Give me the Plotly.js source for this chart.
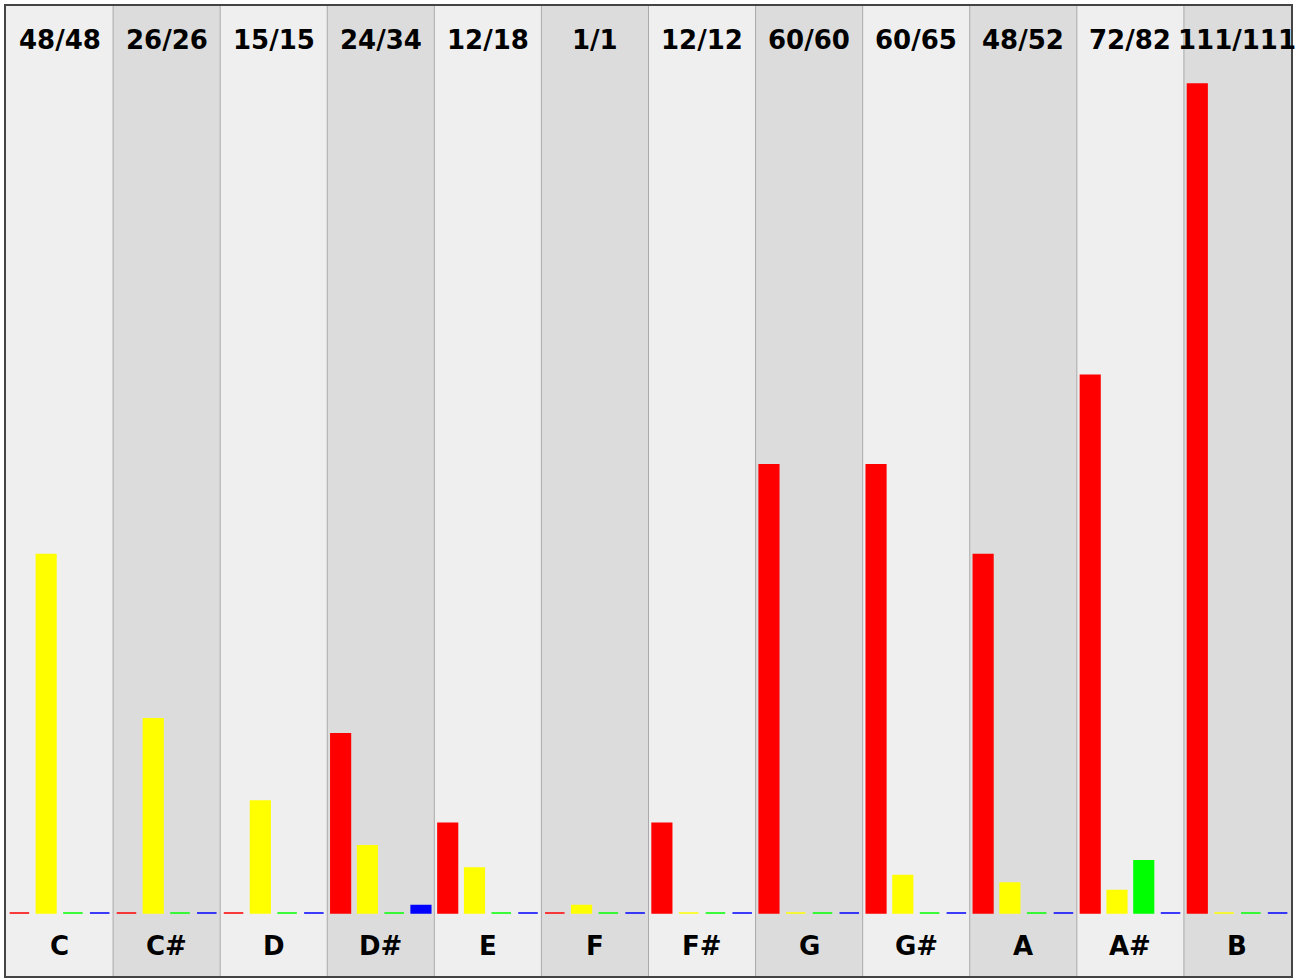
<!DOCTYPE html>
<html>
<head>
<meta charset="utf-8">
<script src="https://cdn.plot.ly/plotly-3.0.1.min.js"></script>
<style>html,body{margin:0;padding:0;background:#fff;}#chart{width:1306px;height:978px;}</style>
</head>
<body>
<div id="chart"></div>
<script>
const categories = ['C','C#','D','D#','E','F','F#','G','G#','A','A#','B'];
const redValues    = [0, 0, 0, 24, 12, 0, 12, 60, 60, 48, 72, 111];
const yellowValues = [48, 26, 15, 9, 6, 1, 0, 0, 5, 4, 3, 0];
const greenValues  = [0, 0, 0, 0, 0, 0, 0, 0, 0, 0, 7, 0];
const blueValues   = [0, 0, 0, 1, 0, 0, 0, 0, 0, 0, 0, 0];
const topLabels = ['48/48','26/26','15/15','24/34','12/18','1/1','12/12','60/60','60/65','48/52','72/82','111/111'];

const seriesColors = ['#ff0000', '#ffff00', '#00ff00', '#0000ff'];
const series = [redValues, yellowValues, greenValues, blueValues];
const traces = series.map((vals, k) => ({
  type: 'bar',
  x: categories,
  y: vals,
  marker: {color: seriesColors[k], line: {color: seriesColors[k], width: 1.6}},
  hoverinfo: 'x+y',
  showlegend: false
}));

const fontSpec = {family: 'DejaVu Sans, Verdana, sans-serif', size: 26, color: '#000'};
const shapes = [];
const annotations = [];
categories.forEach((c, i) => {
  if (i % 2 === 1) {
    shapes.push({type: 'rect', xref: 'x', yref: 'paper', x0: i - 0.5, x1: i + 0.5, y0: 0, y1: 1,
      fillcolor: '#dcdcdc', line: {width: 0}, layer: 'below'});
  }
  if (i > 0) {
    shapes.push({type: 'line', xref: 'x', yref: 'paper', x0: i - 0.5, x1: i - 0.5, y0: 0, y1: 1,
      line: {color: '#aaaaaa', width: 1}, layer: 'below'});
  }
  annotations.push({x: c, xref: 'x', yref: 'paper', y: 0.965, text: '<b>' + topLabels[i] + '</b>',
    showarrow: false, font: fontSpec, xanchor: 'center', yanchor: 'middle'});
  annotations.push({x: c, xref: 'x', yref: 'paper', y: 0.031, text: '<b>' + c + '</b>',
    showarrow: false, font: fontSpec, xanchor: 'center', yanchor: 'middle'});
});

const layout = {
  width: 1306, height: 978,
  margin: {l: 6, r: 15, t: 6, b: 2, pad: 0},
  paper_bgcolor: '#ffffff',
  plot_bgcolor: '#efefef',
  barmode: 'group',
  bargap: 0,
  bargroupgap: 0.27,
  xaxis: {type: 'category', range: [-0.5, 11.5], showticklabels: false, ticks: '', showgrid: false,
    zeroline: false, showline: true, mirror: true, linecolor: '#444', linewidth: 2},
  yaxis: {range: [-8.44, 121.45], showticklabels: false, ticks: '', showgrid: false,
    zeroline: false, showline: true, mirror: true, linecolor: '#444', linewidth: 2},
  shapes: shapes,
  annotations: annotations
};

Plotly.newPlot('chart', traces, layout, {displayModeBar: false, staticPlot: true});
</script>
</body>
</html>
